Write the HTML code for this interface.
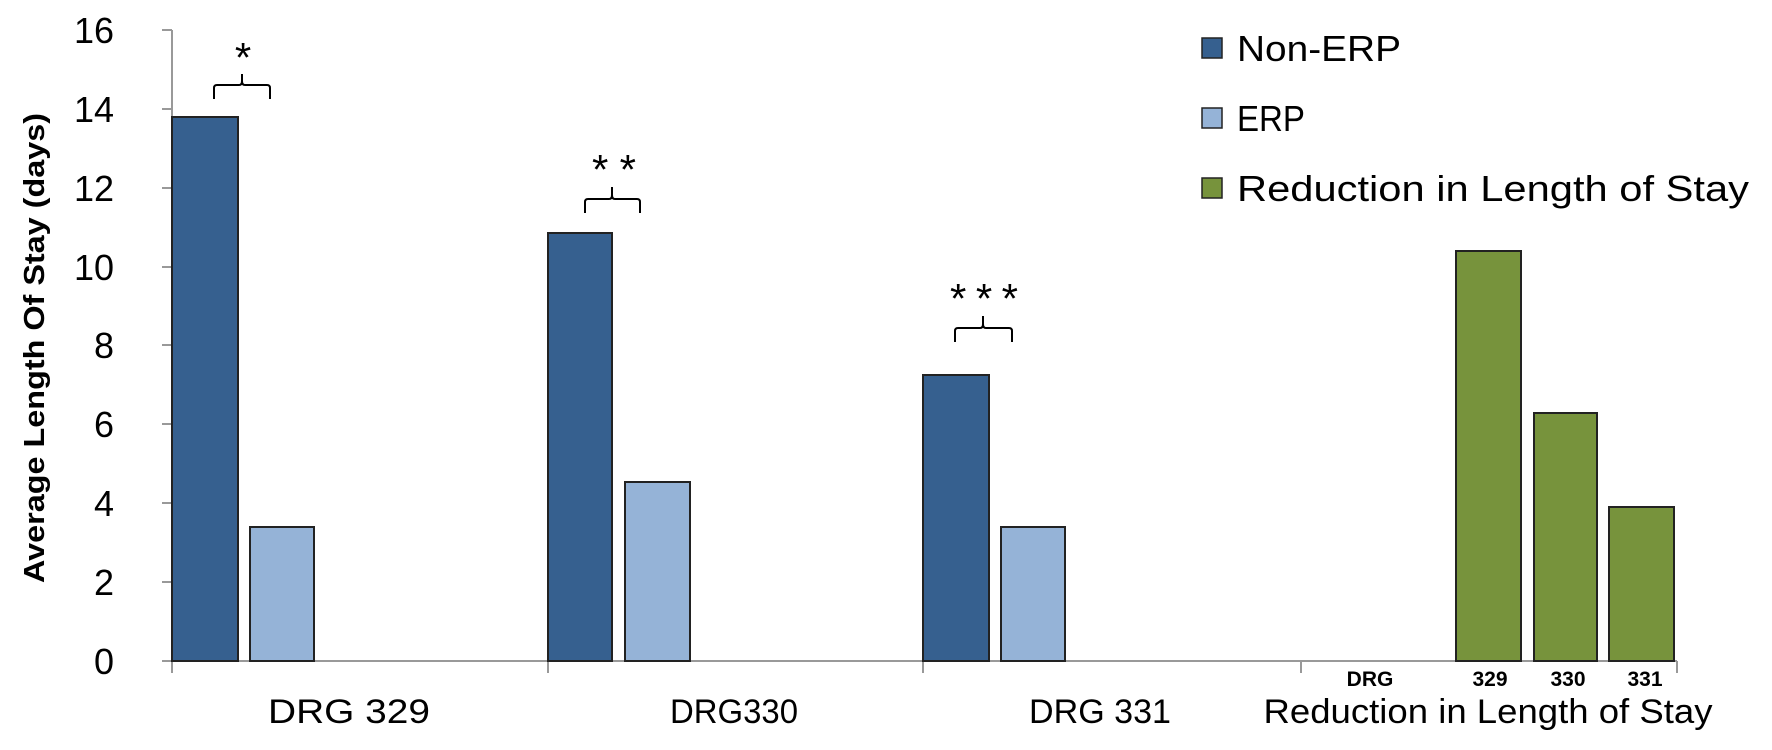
<!DOCTYPE html>
<html><head><meta charset="utf-8"><style>body{margin:0;background:#fff}svg{display:block}text{font-family:"Liberation Sans",sans-serif}</style></head><body>
<svg width="1772" height="750" xmlns="http://www.w3.org/2000/svg">
<g stroke="#999" stroke-width="2">
<line x1="172" y1="30" x2="172" y2="661"/>
<line x1="162" y1="661" x2="1677" y2="661"/>
<line x1="162" y1="30" x2="172" y2="30"/><line x1="162" y1="109" x2="172" y2="109"/>
<line x1="162" y1="188" x2="172" y2="188"/><line x1="162" y1="267" x2="172" y2="267"/>
<line x1="162" y1="345" x2="172" y2="345"/><line x1="162" y1="424" x2="172" y2="424"/>
<line x1="162" y1="503" x2="172" y2="503"/><line x1="162" y1="582" x2="172" y2="582"/>
<line x1="172" y1="661" x2="172" y2="673"/><line x1="548" y1="661" x2="548" y2="673"/>
<line x1="923" y1="661" x2="923" y2="673"/><line x1="1301" y1="661" x2="1301" y2="673"/>
<line x1="1677" y1="661" x2="1677" y2="673"/>
</g>
<g font-size="36" text-anchor="end" fill="#000">
<text x="114" y="43">16</text><text x="114" y="122">14</text><text x="114" y="201">12</text>
<text x="114" y="280">10</text><text x="114" y="358">8</text><text x="114" y="437">6</text>
<text x="114" y="516">4</text><text x="114" y="595">2</text><text x="114" y="674">0</text>
</g>
<text transform="translate(44,348) rotate(-90)" text-anchor="middle" font-size="29" font-weight="bold" textLength="470" lengthAdjust="spacingAndGlyphs">Average Length Of Stay (days)</text>
<g stroke="#222" stroke-width="2">
<rect x="172" y="117" width="66" height="544" fill="#36608f"/>
<rect x="250" y="527" width="64" height="134" fill="#95b3d7"/>
<rect x="548" y="233" width="64" height="428" fill="#36608f"/>
<rect x="625" y="482" width="65" height="179" fill="#95b3d7"/>
<rect x="923" y="375" width="66" height="286" fill="#36608f"/>
<rect x="1001" y="527" width="64" height="134" fill="#95b3d7"/>
<rect x="1456" y="251" width="65" height="410" fill="#77933c"/>
<rect x="1534" y="413" width="63" height="248" fill="#77933c"/>
<rect x="1609" y="507" width="65" height="154" fill="#77933c"/>
</g>
<g fill="none" stroke="#000" stroke-width="2">
<path d="M214,99 V88 Q214,85 217,85 H239 Q242,85 242,81 V74 M242,81 Q242,85 245,85 H267 Q270,85 270,88 V99"/>
<path d="M585,213 V202 Q585,199 588,199 H609 Q612,199 612,195 V187 M612,195 Q612,199 615,199 H637 Q640,199 640,202 V213"/>
<path d="M955,342 V331 Q955,328 958,328 H980 Q983,328 983,324 V316 M983,324 Q983,328 986,328 H1009 Q1012,328 1012,331 V342"/>
</g>
<g font-size="42" text-anchor="middle">
<text x="243" y="72">*</text>
<text x="614" y="184" textLength="44" lengthAdjust="spacing">**</text>
<text x="984" y="313" textLength="68" lengthAdjust="spacing">***</text>
</g>
<g font-size="34" text-anchor="middle">
<text x="349" y="723" textLength="162" lengthAdjust="spacingAndGlyphs">DRG 329</text>
<text x="734" y="723" textLength="128" lengthAdjust="spacingAndGlyphs">DRG330</text>
<text x="1100" y="723" textLength="142" lengthAdjust="spacingAndGlyphs">DRG 331</text>
<text x="1488" y="723" textLength="449" lengthAdjust="spacingAndGlyphs">Reduction in Length of Stay</text>
</g>
<g font-size="21" font-weight="bold" text-anchor="middle">
<text x="1370" y="686">DRG</text><text x="1490" y="686">329</text>
<text x="1568" y="686">330</text><text x="1645" y="686">331</text>
</g>
<g stroke="#222" stroke-width="1.5">
<rect x="1202" y="38" width="20" height="20" fill="#36608f"/>
<rect x="1202" y="108" width="20" height="20" fill="#95b3d7"/>
<rect x="1202" y="178" width="20" height="20" fill="#77933c"/>
</g>
<g font-size="36">
<text x="1237" y="61" textLength="164" lengthAdjust="spacingAndGlyphs">Non-ERP</text>
<text x="1237" y="131" textLength="68" lengthAdjust="spacingAndGlyphs">ERP</text>
<text x="1237" y="201" textLength="512" lengthAdjust="spacingAndGlyphs">Reduction in Length of Stay</text>
</g>
</svg>
</body></html>
